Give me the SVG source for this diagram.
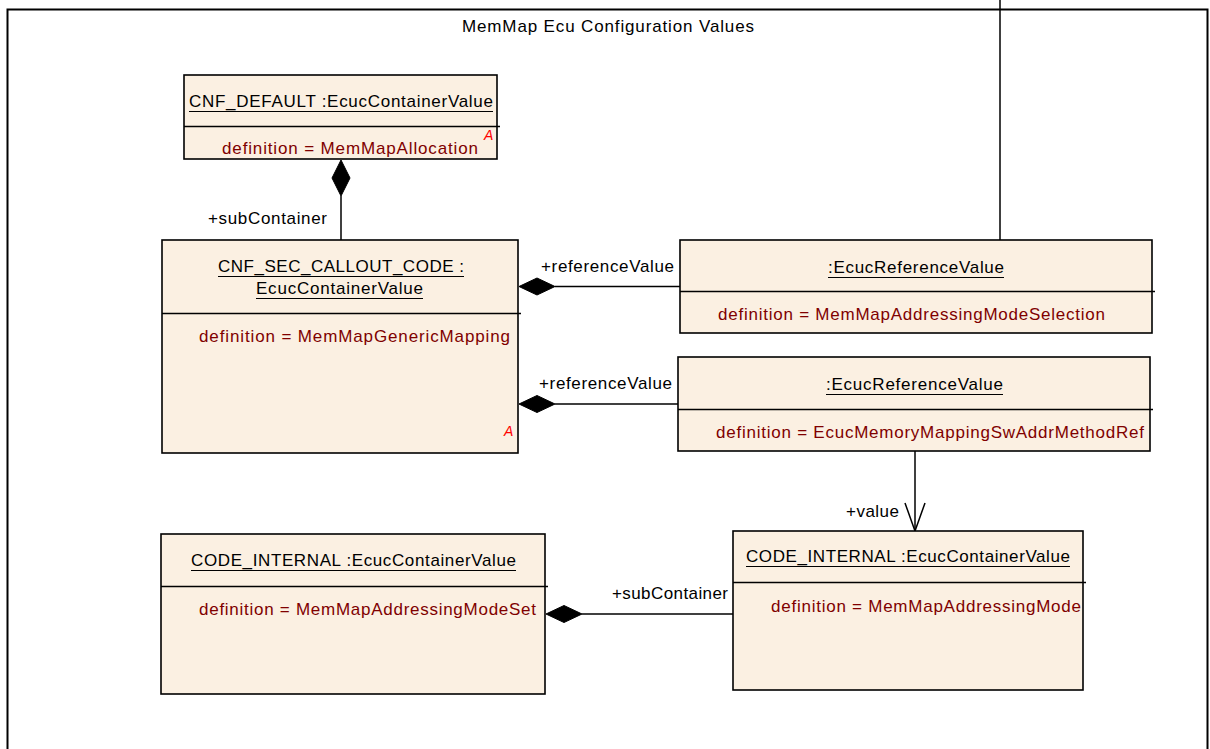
<svg xmlns="http://www.w3.org/2000/svg" width="1210" height="749" viewBox="0 0 1210 749">
  <style>
    .box { fill: #FBF0E2; stroke: #000; stroke-width: 1.6; }
    .sep { stroke: #000; stroke-width: 1.4; }
    .ul { stroke: #000; stroke-width: 1.2; }
    .t { font-family: "Liberation Sans", Arial, sans-serif; font-size: 17px; fill: #000; }
    .d { font-family: "Liberation Sans", Arial, sans-serif; font-size: 17px; fill: #800000; }
    .abs { font-family: "Liberation Sans", Arial, sans-serif; font-size: 14px; font-style: italic; fill: #FF0000; }
    .lbl { font-family: "Liberation Sans", Arial, sans-serif; font-size: 17px; fill: #000; }
    .edge { stroke: #000; stroke-width: 1.5; fill: none; }
    .dia { fill: #000; stroke: #000; stroke-width: 1; }
  </style>
  <rect width="1210" height="749" fill="#fff"/>

  <!-- package frame -->
  <g id="frame">
    <rect x="7.5" y="9.5" width="1200" height="760" fill="none" stroke="#000" stroke-width="2"/>
    <text class="t" x="608" y="32" text-anchor="middle" textLength="292" lengthAdjust="spacing">MemMap Ecu Configuration Values</text>
  </g>

  <!-- connectors -->
  <g id="connectors">
    <!-- link leaving the frame from the upper reference value -->
    <line class="edge" x1="1000" y1="0" x2="1000" y2="240"/>
    <!-- CNF_DEFAULT  <>— CNF_SEC_CALLOUT_CODE -->
    <line class="edge" x1="341" y1="196" x2="341" y2="240"/>
    <polygon class="dia" points="341,160 350,178 341,196 332,178"/>
    <text class="lbl" x="208" y="224" textLength="119" lengthAdjust="spacing">+subContainer</text>
    <!-- CNF_SEC_CALLOUT_CODE <>— reference value 1 -->
    <line class="edge" x1="555" y1="286.5" x2="680" y2="286.5"/>
    <polygon class="dia" points="519,286.5 537,278 555,286.5 537,295"/>
    <text class="lbl" x="541" y="272" textLength="133" lengthAdjust="spacing">+referenceValue</text>
    <!-- CNF_SEC_CALLOUT_CODE <>— reference value 2 -->
    <line class="edge" x1="555" y1="404" x2="678" y2="404"/>
    <polygon class="dia" points="519,404 537,395.5 555,404 537,412.5"/>
    <text class="lbl" x="539" y="389" textLength="133" lengthAdjust="spacing">+referenceValue</text>
    <!-- reference value 2 —> CODE_INTERNAL -->
    <line class="edge" x1="915" y1="451" x2="915" y2="531"/>
    <polyline class="edge" points="905,503 915,531 925,503"/>
    <text class="lbl" x="846" y="517" textLength="53" lengthAdjust="spacing">+value</text>
    <!-- CODE_INTERNAL (set) <>— CODE_INTERNAL -->
    <line class="edge" x1="582" y1="614" x2="733" y2="614"/>
    <polygon class="dia" points="546,614 564,605.5 582,614 564,622.5"/>
    <text class="lbl" x="612" y="599" textLength="116" lengthAdjust="spacing">+subContainer</text>
  </g>

  <!-- CNF_DEFAULT -->
  <g id="cnf_default">
    <rect class="box" x="184" y="75" width="313" height="84"/>
    <line class="sep" x1="184" y1="126.5" x2="500" y2="126.5"/>
    <text class="t" x="189" y="107" textLength="304" lengthAdjust="spacing">CNF_DEFAULT :EcucContainerValue</text>
    <line class="ul" x1="189" y1="111.5" x2="493" y2="111.5"/>
    <text class="d" x="222" y="154" textLength="256" lengthAdjust="spacing">definition = MemMapAllocation</text>
    <text class="abs" x="484" y="140">A</text>
  </g>

  <!-- CNF_SEC_CALLOUT_CODE -->
  <g id="cnf_sec_callout_code">
    <rect class="box" x="162" y="240" width="356" height="213"/>
    <line class="sep" x1="162" y1="313.5" x2="521" y2="313.5"/>
    <text class="t" x="218" y="272" textLength="246" lengthAdjust="spacing">CNF_SEC_CALLOUT_CODE :</text>
    <line class="ul" x1="218" y1="276.5" x2="464" y2="276.5"/>
    <text class="t" x="256" y="294" textLength="167" lengthAdjust="spacing">EcucContainerValue</text>
    <line class="ul" x1="256" y1="298.5" x2="423" y2="298.5"/>
    <text class="d" x="199" y="342" textLength="311" lengthAdjust="spacing">definition = MemMapGenericMapping</text>
    <text class="abs" x="504" y="436">A</text>
  </g>

  <!-- reference value: addressing mode selection -->
  <g id="ref_addressing_mode_selection">
    <rect class="box" x="680" y="240" width="472" height="93"/>
    <line class="sep" x1="680" y1="291.5" x2="1155" y2="291.5"/>
    <text class="t" x="828" y="273" textLength="176" lengthAdjust="spacing">:EcucReferenceValue</text>
    <line class="ul" x1="828" y1="277.5" x2="1004" y2="277.5"/>
    <text class="d" x="718" y="320" textLength="387" lengthAdjust="spacing">definition = MemMapAddressingModeSelection</text>
  </g>

  <!-- reference value: sw addr method -->
  <g id="ref_sw_addr_method">
    <rect class="box" x="678" y="357" width="472" height="94"/>
    <line class="sep" x1="678" y1="409.5" x2="1153" y2="409.5"/>
    <text class="t" x="826" y="390" textLength="177" lengthAdjust="spacing">:EcucReferenceValue</text>
    <line class="ul" x1="826" y1="394.5" x2="1003" y2="394.5"/>
    <text class="d" x="716" y="438" textLength="428" lengthAdjust="spacing">definition = EcucMemoryMappingSwAddrMethodRef</text>
  </g>

  <!-- CODE_INTERNAL : addressing mode set -->
  <g id="code_internal_set">
    <rect class="box" x="161" y="534" width="384" height="160"/>
    <line class="sep" x1="161" y1="586.5" x2="548" y2="586.5"/>
    <text class="t" x="191" y="566" textLength="325" lengthAdjust="spacing">CODE_INTERNAL :EcucContainerValue</text>
    <line class="ul" x1="191" y1="570.5" x2="516" y2="570.5"/>
    <text class="d" x="199" y="615" textLength="337" lengthAdjust="spacing">definition = MemMapAddressingModeSet</text>
  </g>

  <!-- CODE_INTERNAL : addressing mode -->
  <g id="code_internal_mode">
    <rect class="box" x="733" y="531" width="350" height="159"/>
    <line class="sep" x1="733" y1="582.5" x2="1086" y2="582.5"/>
    <text class="t" x="746" y="562" textLength="324" lengthAdjust="spacing">CODE_INTERNAL :EcucContainerValue</text>
    <line class="ul" x1="746" y1="566.5" x2="1070" y2="566.5"/>
    <text class="d" x="771" y="612" textLength="310" lengthAdjust="spacing">definition = MemMapAddressingMode</text>
  </g>
</svg>
